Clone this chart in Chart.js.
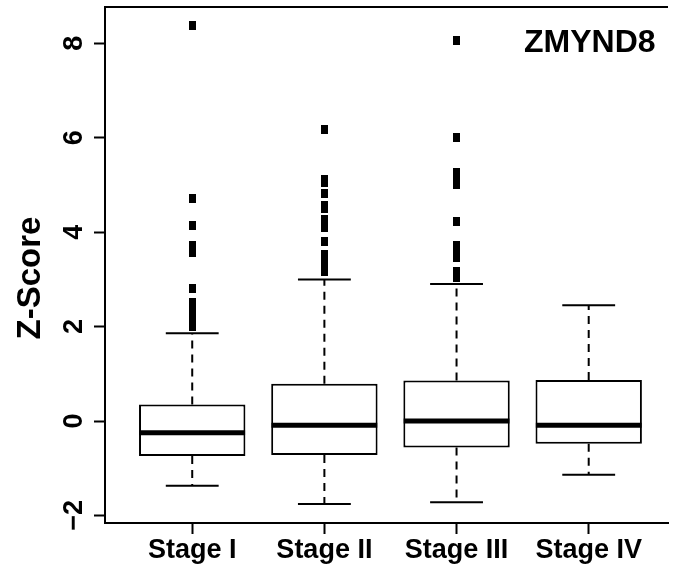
<!DOCTYPE html>
<html>
<head>
<meta charset="utf-8">
<script src="https://cdn.jsdelivr.net/npm/chart.js@4.4.0/dist/chart.umd.min.js"></script>
<style>
  html, body { margin: 0; padding: 0; background: #fff; }
  #wrap { width: 673px; height: 567px; }
</style>
</head>
<body>
<div id="wrap"><canvas id="boxChart"></canvas></div>
<script>
const categories = ['Stage I', 'Stage II', 'Stage III', 'Stage IV'];
const q1 = [-0.74, -0.72, -0.56, -0.48];
const q3 = [0.35, 0.79, 0.86, 0.87];
const medians = [-0.25, -0.09, 0.00, -0.09];
const whiskerLow = [-1.37, -1.76, -1.72, -1.14];
const whiskerHigh = [1.86, 3.00, 2.90, 2.45];
const outliersStage1 = [8.37, 4.71, 4.15, 3.72, 3.64, 3.57, 2.80, 2.52, 2.46, 2.40, 2.33, 2.27, 2.20, 2.14, 2.08, 2.01];
const outliersStage2 = [6.18, 5.11, 5.06, 4.83, 4.57, 4.50, 4.26, 4.18, 4.10, 3.80, 3.52, 3.46, 3.40, 3.34, 3.28, 3.22, 3.17];
const outliersStage3 = [8.05, 6.01, 5.26, 5.13, 5.00, 4.23, 3.72, 3.53, 3.47, 3.16, 3.04];
const outliersStage4 = [];
const yTicks = [-2, 0, 2, 4, 6, 8];
const yTitle = 'Z-Score';
const geneLabel = 'ZMYND8';

const FONT = '"Liberation Sans", Arial, Helvetica, sans-serif';

// outlier points, one column per stage
const outlierPoints = [];
[outliersStage1, outliersStage2, outliersStage3, outliersStage4].forEach((list, i) => {
    list.forEach(v => outlierPoints.push({ x: i + 1, y: v }));
});

// small filled rectangle like R's pch 15
const squareMark = document.createElement('canvas');
squareMark.width = 7;
squareMark.height = 9;
const sq = squareMark.getContext('2d');
sq.fillStyle = '#000';
sq.fillRect(0, 0, 7, 9);

const boxExtras = {
    id: 'boxExtras',
    afterDatasetsDraw(chart) {
        const { ctx, chartArea, scales: { x, y } } = chart;
        ctx.save();
        ctx.strokeStyle = '#000';
        categories.forEach((c, i) => {
            const cx = x.getPixelForValue(i + 1);
            const half = x.getPixelForValue(i + 1.4) - cx;

            // dashed whiskers
            ctx.lineWidth = 2;
            ctx.setLineDash([8, 6]);
            ctx.beginPath();
            ctx.moveTo(cx, y.getPixelForValue(q3[i]));
            ctx.lineTo(cx, y.getPixelForValue(whiskerHigh[i]));
            ctx.moveTo(cx, y.getPixelForValue(q1[i]));
            ctx.lineTo(cx, y.getPixelForValue(whiskerLow[i]));
            ctx.stroke();
            ctx.setLineDash([]);

            // staples
            ctx.beginPath();
            ctx.moveTo(cx - half / 2, y.getPixelForValue(whiskerHigh[i]));
            ctx.lineTo(cx + half / 2, y.getPixelForValue(whiskerHigh[i]));
            ctx.moveTo(cx - half / 2, y.getPixelForValue(whiskerLow[i]));
            ctx.lineTo(cx + half / 2, y.getPixelForValue(whiskerLow[i]));
            ctx.stroke();

            // median
            ctx.lineWidth = 5;
            ctx.beginPath();
            ctx.moveTo(cx - half, y.getPixelForValue(medians[i]));
            ctx.lineTo(cx + half, y.getPixelForValue(medians[i]));
            ctx.stroke();
        });

        // top edge of the frame
        ctx.lineWidth = 2;
        ctx.beginPath();
        ctx.moveTo(chartArea.left, chartArea.top);
        ctx.lineTo(chartArea.right, chartArea.top);
        ctx.stroke();

        // y tick labels, parallel to the axis
        ctx.fillStyle = '#000';
        ctx.font = 'bold 27px ' + FONT;
        ctx.textAlign = 'center';
        ctx.textBaseline = 'alphabetic';
        yTicks.forEach(v => {
            ctx.save();
            ctx.translate(82, y.getPixelForValue(v));
            ctx.rotate(-Math.PI / 2);
            ctx.fillText(v < 0 ? '\u2212' + Math.abs(v) : String(v), 0, 0);
            ctx.restore();
        });

        // axis title
        ctx.font = 'bold 33px ' + FONT;
        ctx.save();
        ctx.translate(40, 278);
        ctx.rotate(-Math.PI / 2);
        ctx.fillText(yTitle, 0, 0);
        ctx.restore();

        // gene name
        ctx.textAlign = 'left';
        ctx.font = 'bold 32px ' + FONT;
        ctx.fillText(geneLabel, 524, 52);
        ctx.restore();
    }
};

new Chart(document.getElementById('boxChart'), {
    type: 'bar',
    data: {
        datasets: [{
            type: 'bar',
            data: categories.map((c, i) => ({ x: i + 1, y: [q1[i], q3[i]] })),
            backgroundColor: '#fff',
            borderColor: '#000',
            borderWidth: 2,
            borderSkipped: false,
            categoryPercentage: 1,
            barPercentage: 0.805
        }, {
            type: 'scatter',
            data: outlierPoints,
            pointStyle: squareMark,
            pointRadius: 5,
            backgroundColor: '#000',
            borderWidth: 0
        }]
    },
    options: {
        responsive: true,
        maintainAspectRatio: false,
        animation: false,
        layout: { padding: { top: 7, left: 0, right: 0, bottom: 0 } },
        plugins: { legend: { display: false }, tooltip: { enabled: false } },
        scales: {
            x: {
                type: 'linear',
                min: 0.34,
                max: 4.6,
                offset: false,
                afterBuildTicks: s => { s.ticks = [1, 2, 3, 4].map(v => ({ value: v })); },
                afterFit: s => { s.height = 44; },
                grid: { drawOnChartArea: false, drawTicks: true, tickLength: 11, tickWidth: 2, tickColor: '#000', offset: false },
                border: { display: true, color: '#000', width: 2 },
                ticks: {
                    autoSkip: false,
                    maxRotation: 0,
                    padding: 0,
                    color: '#000',
                    font: { family: FONT, size: 27, weight: 'bold' },
                    callback: v => categories[v - 1]
                }
            },
            y: {
                min: -2.16,
                max: 8.77,
                afterBuildTicks: s => { s.ticks = yTicks.map(v => ({ value: v })); },
                afterFit: s => { s.width = 105; },
                grid: { drawOnChartArea: false, drawTicks: true, tickLength: 11, tickWidth: 2, tickColor: '#000' },
                border: { display: true, color: '#000', width: 2 },
                ticks: { display: false }
            }
        }
    },
    plugins: [boxExtras]
});
</script>
</body>
</html>
